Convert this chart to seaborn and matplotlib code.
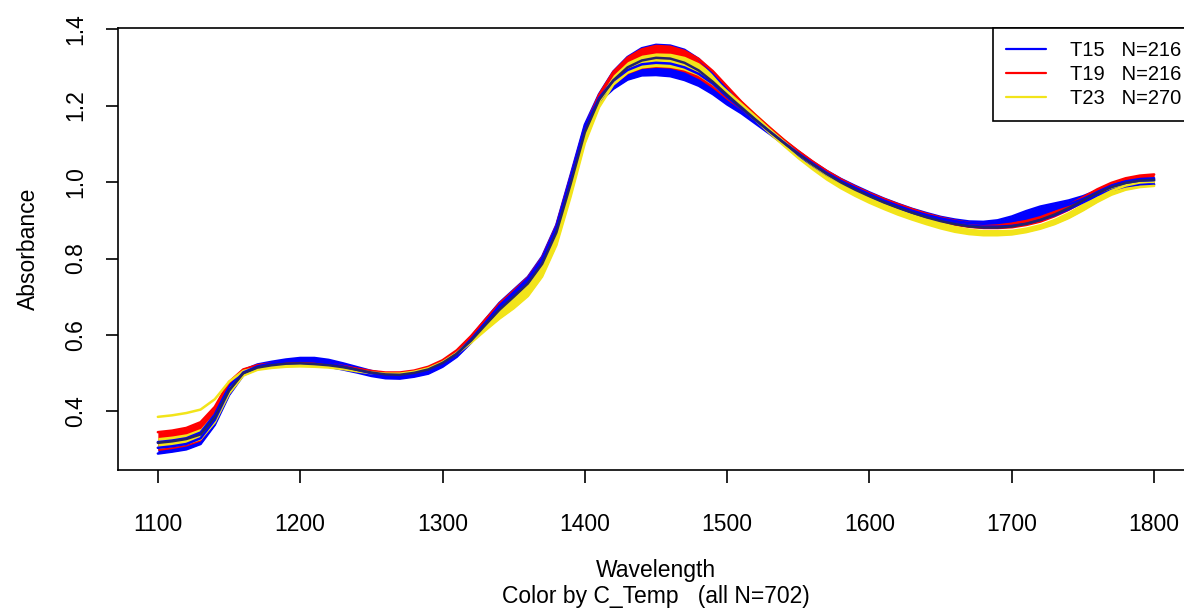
import matplotlib
matplotlib.use("Agg")
import matplotlib.pyplot as plt
from matplotlib.lines import Line2D
import pandas as pd
import seaborn as sns

# ---------------- data ----------------
wavelength = list(range(1100, 1801, 10))

t15_low = [0.290, 0.295, 0.301, 0.315, 0.365, 0.443, 0.495, 0.513, 0.521, 0.525,
           0.526, 0.522, 0.517, 0.510, 0.502, 0.493, 0.487, 0.486, 0.491, 0.499,
           0.517, 0.543, 0.580, 0.624, 0.670, 0.706, 0.743, 0.795, 0.878, 1.005,
           1.140, 1.210, 1.244, 1.268, 1.279, 1.280, 1.277, 1.267, 1.252, 1.230,
           1.203, 1.180, 1.153, 1.126, 1.098, 1.069, 1.044, 1.019, 0.998, 0.980,
           0.963, 0.947, 0.933, 0.920, 0.909, 0.901, 0.895, 0.889, 0.886, 0.886,
           0.887, 0.891, 0.901, 0.913, 0.929, 0.947, 0.965, 0.979, 0.989, 0.994,
           0.994]
t15_high = [0.320, 0.324, 0.330, 0.345, 0.392, 0.466, 0.508, 0.523, 0.530, 0.536,
            0.540, 0.540, 0.535, 0.526, 0.516, 0.506, 0.499, 0.497, 0.502, 0.512,
            0.530, 0.557, 0.595, 0.640, 0.684, 0.718, 0.752, 0.805, 0.888, 1.018,
            1.150, 1.230, 1.289, 1.327, 1.350, 1.359, 1.357, 1.346, 1.322, 1.285,
            1.243, 1.204, 1.170, 1.138, 1.108, 1.080, 1.053, 1.029, 1.008, 0.990,
            0.973, 0.957, 0.943, 0.930, 0.919, 0.909, 0.902, 0.897, 0.896, 0.900,
            0.910, 0.924, 0.936, 0.944, 0.952, 0.963, 0.978, 0.992, 1.002, 1.008,
            1.010]
t19_low = [0.298, 0.303, 0.310, 0.323, 0.370, 0.448, 0.497, 0.513, 0.518, 0.521,
           0.522, 0.520, 0.517, 0.512, 0.506, 0.499, 0.495, 0.494, 0.499, 0.508,
           0.525, 0.549, 0.583, 0.624, 0.664, 0.698, 0.733, 0.785, 0.868, 0.997,
           1.130, 1.210, 1.255, 1.283, 1.297, 1.300, 1.298, 1.288, 1.270, 1.245,
           1.215, 1.188, 1.159, 1.129, 1.099, 1.070, 1.043, 1.018, 0.995, 0.976,
           0.959, 0.943, 0.929, 0.916, 0.904, 0.894, 0.886, 0.881, 0.878, 0.878,
           0.880, 0.886, 0.895, 0.909, 0.926, 0.946, 0.965, 0.980, 0.989, 0.992,
           0.992]
t19_high = [0.346, 0.350, 0.357, 0.372, 0.412, 0.477, 0.510, 0.521, 0.526, 0.529,
            0.530, 0.529, 0.525, 0.519, 0.512, 0.506, 0.502, 0.502, 0.507, 0.517,
            0.534, 0.560, 0.597, 0.640, 0.682, 0.716, 0.750, 0.802, 0.885, 1.013,
            1.142, 1.228, 1.288, 1.325, 1.347, 1.356, 1.354, 1.343, 1.322, 1.290,
            1.250, 1.210, 1.175, 1.142, 1.110, 1.081, 1.054, 1.029, 1.007, 0.988,
            0.971, 0.956, 0.942, 0.929, 0.917, 0.907, 0.899, 0.893, 0.890, 0.890,
            0.892, 0.898, 0.908, 0.922, 0.940, 0.960, 0.981, 0.998, 1.010, 1.017,
            1.020]
t23_low = [0.305, 0.310, 0.316, 0.328, 0.372, 0.447, 0.494, 0.509, 0.514, 0.517,
           0.518, 0.517, 0.515, 0.511, 0.505, 0.500, 0.497, 0.497, 0.502, 0.511,
           0.527, 0.551, 0.580, 0.612, 0.643, 0.670, 0.702, 0.753, 0.835, 0.962,
           1.102, 1.196, 1.255, 1.286, 1.300, 1.304, 1.302, 1.295, 1.281, 1.256,
           1.225, 1.194, 1.162, 1.128, 1.095, 1.063, 1.034, 1.007, 0.984, 0.964,
           0.946, 0.930, 0.915, 0.902, 0.890, 0.879, 0.870, 0.864, 0.861, 0.861,
           0.863, 0.869, 0.878, 0.890, 0.906, 0.926, 0.948, 0.967, 0.980, 0.987,
           0.990]
t23_high = [0.332, 0.336, 0.342, 0.356, 0.398, 0.468, 0.506, 0.516, 0.520, 0.523,
            0.524, 0.523, 0.520, 0.516, 0.510, 0.505, 0.502, 0.502, 0.506, 0.515,
            0.531, 0.555, 0.590, 0.630, 0.668, 0.700, 0.734, 0.785, 0.866, 0.997,
            1.135, 1.222, 1.280, 1.315, 1.332, 1.338, 1.337, 1.329, 1.312, 1.284,
            1.250, 1.214, 1.180, 1.146, 1.114, 1.084, 1.056, 1.030, 1.007, 0.987,
            0.968, 0.951, 0.936, 0.922, 0.908, 0.897, 0.887, 0.880, 0.876, 0.876,
            0.877, 0.883, 0.892, 0.906, 0.924, 0.946, 0.968, 0.987, 1.001, 1.010,
            1.014]
t23_outlier = [0.386, 0.390, 0.396, 0.405, 0.432, 0.478, 0.506, 0.515, 0.518, 0.520,
               0.521, 0.520, 0.517, 0.513, 0.507, 0.502, 0.499, 0.499, 0.504, 0.513,
               0.529, 0.553, 0.585, 0.621, 0.655, 0.685, 0.718, 0.769, 0.850, 0.980,
               1.118, 1.209, 1.267, 1.300, 1.316, 1.321, 1.319, 1.312, 1.296, 1.270,
               1.237, 1.204, 1.171, 1.137, 1.105, 1.074, 1.045, 1.019, 0.996, 0.976,
               0.957, 0.941, 0.926, 0.912, 0.899, 0.888, 0.879, 0.872, 0.869, 0.869,
               0.870, 0.876, 0.885, 0.898, 0.915, 0.936, 0.958, 0.977, 0.991, 0.999,
               1.002]
t15_mid = [0.305, 0.309, 0.315, 0.330, 0.378, 0.455, 0.502, 0.518, 0.526, 0.531,
           0.533, 0.531, 0.526, 0.518, 0.509, 0.500, 0.493, 0.492, 0.497, 0.506,
           0.524, 0.550, 0.588, 0.632, 0.677, 0.712, 0.748, 0.800, 0.883, 1.012,
           1.145, 1.220, 1.265, 1.293, 1.308, 1.312, 1.310, 1.300, 1.283, 1.257,
           1.223, 1.192, 1.162, 1.132, 1.103, 1.075, 1.049, 1.024, 1.003, 0.985,
           0.968, 0.952, 0.938, 0.925, 0.914, 0.905, 0.898, 0.893, 0.891, 0.893,
           0.898, 0.907, 0.918, 0.929, 0.941, 0.956, 0.973, 0.988, 0.998, 1.004,
           1.005]
dark_mean = [0.318, 0.322, 0.328, 0.340, 0.385, 0.455, 0.500, 0.515, 0.521, 0.525,
             0.526, 0.524, 0.521, 0.516, 0.509, 0.502, 0.497, 0.496, 0.501, 0.510,
             0.527, 0.551, 0.585, 0.626, 0.666, 0.700, 0.735, 0.786, 0.868, 0.995,
             1.130, 1.215, 1.266, 1.300, 1.318, 1.325, 1.323, 1.312, 1.292, 1.262,
             1.228, 1.195, 1.163, 1.132, 1.102, 1.073, 1.046, 1.021, 0.999, 0.980,
             0.963, 0.947, 0.933, 0.920, 0.908, 0.898, 0.890, 0.884, 0.881, 0.881,
             0.884, 0.891, 0.901, 0.915, 0.932, 0.952, 0.971, 0.987, 0.998, 1.004,
             1.006]

group_labels = ["T15   N=216", "T19   N=216", "T23   N=270"]
group_colors = ["#0000FF", "#FF0000", "#F2E41A"]

# ---------------- figure ----------------
sns.set_style("ticks")
plt.rcParams["font.family"] = ["Liberation Sans", "DejaVu Sans"]
plt.rcParams["text.color"] = "black"
plt.rcParams["axes.labelcolor"] = "black"
plt.rcParams["xtick.color"] = "black"
plt.rcParams["ytick.color"] = "black"

FS = 16.5
W, H = 1184, 610
fig = plt.figure(figsize=(W / 100, H / 100), dpi=100)
ax_l, ax_r, ax_t, ax_b = 118, 1194, 28, 470
ax = fig.add_axes([ax_l / W, 1 - ax_b / H, (ax_r - ax_l) / W, (ax_b - ax_t) / H])

bands = [(t15_low, t15_high, group_colors[0]),
         (t19_low, t19_high, group_colors[1]),
         (t23_low, t23_high, group_colors[2])]
for lo, hi, c in bands:
    ax.fill_between(wavelength, lo, hi, color=c, linewidth=0, zorder=2)

lines = {
    "t15_low": (t15_low, group_colors[0]),
    "t15_high": (t15_high, group_colors[0]),
    "t19_high": (t19_high, group_colors[1]),
    "t23_low": (t23_low, group_colors[2]),
    "t23_outlier": (t23_outlier, group_colors[2]),
    "t15_mid": (t15_mid, group_colors[0]),
    "dark_mean": (dark_mean, "#23236A"),
}
rows = []
for name, (vals, _) in lines.items():
    for w, v in zip(wavelength, vals):
        rows.append({"wavelength": w, "absorbance": v, "curve": name})
df = pd.DataFrame(rows)
palette = {k: c for k, (_, c) in lines.items()}
sns.lineplot(data=df, x="wavelength", y="absorbance", hue="curve",
             hue_order=list(lines.keys()), palette=palette, estimator=None,
             sort=False, legend=False, linewidth=1.8, ax=ax, zorder=3)

ax.set_xlim(1072, 1828)
ax.set_ylim(0.247, 1.403)
ax.set_xticks([1100, 1200, 1300, 1400, 1500, 1600, 1700, 1800])
ax.set_yticks([0.4, 0.6, 0.8, 1.0, 1.2, 1.4])
ax.set_yticklabels(["0.4", "0.6", "0.8", "1.0", "1.2", "1.4"], rotation=90, va="center")
ax.set_xlabel("")
ax.set_ylabel("")
for s in ax.spines.values():
    s.set_visible(True)
    s.set_color("black")
    s.set_linewidth(1.2)
ax.tick_params(axis="both", which="major", direction="out", length=9, width=1.2,
               color="black", labelsize=FS, labelcolor="black",
               bottom=True, left=True, top=False, right=False)
ax.tick_params(axis="x", pad=22)
ax.tick_params(axis="y", pad=13)

handles = [Line2D([0], [0], color=c, lw=1.6) for c in group_colors]
leg = ax.legend(handles, group_labels, loc="upper right", bbox_to_anchor=(1, 1),
                borderaxespad=0, frameon=True, fancybox=False, edgecolor="black",
                framealpha=1, fontsize=14.5, handlelength=2.0, handletextpad=1.15,
                borderpad=0.65, labelspacing=0.25)
leg.get_frame().set_linewidth(1.2)

cx = (ax_l + ax_r) / 2 / W
fig.text(cx, 1 - 570 / H, "Wavelength", ha="center", va="center", fontsize=FS)
fig.text(cx, 1 - 597 / H, "Color by C_Temp   (all N=702)", ha="center", va="center",
         fontsize=FS)
fig.text(28 / W, 1 - (ax_t + ax_b) / 2 / H, "Absorbance", ha="center", va="center",
         rotation=90, fontsize=FS)

fig.savefig("out.png", dpi=100)
